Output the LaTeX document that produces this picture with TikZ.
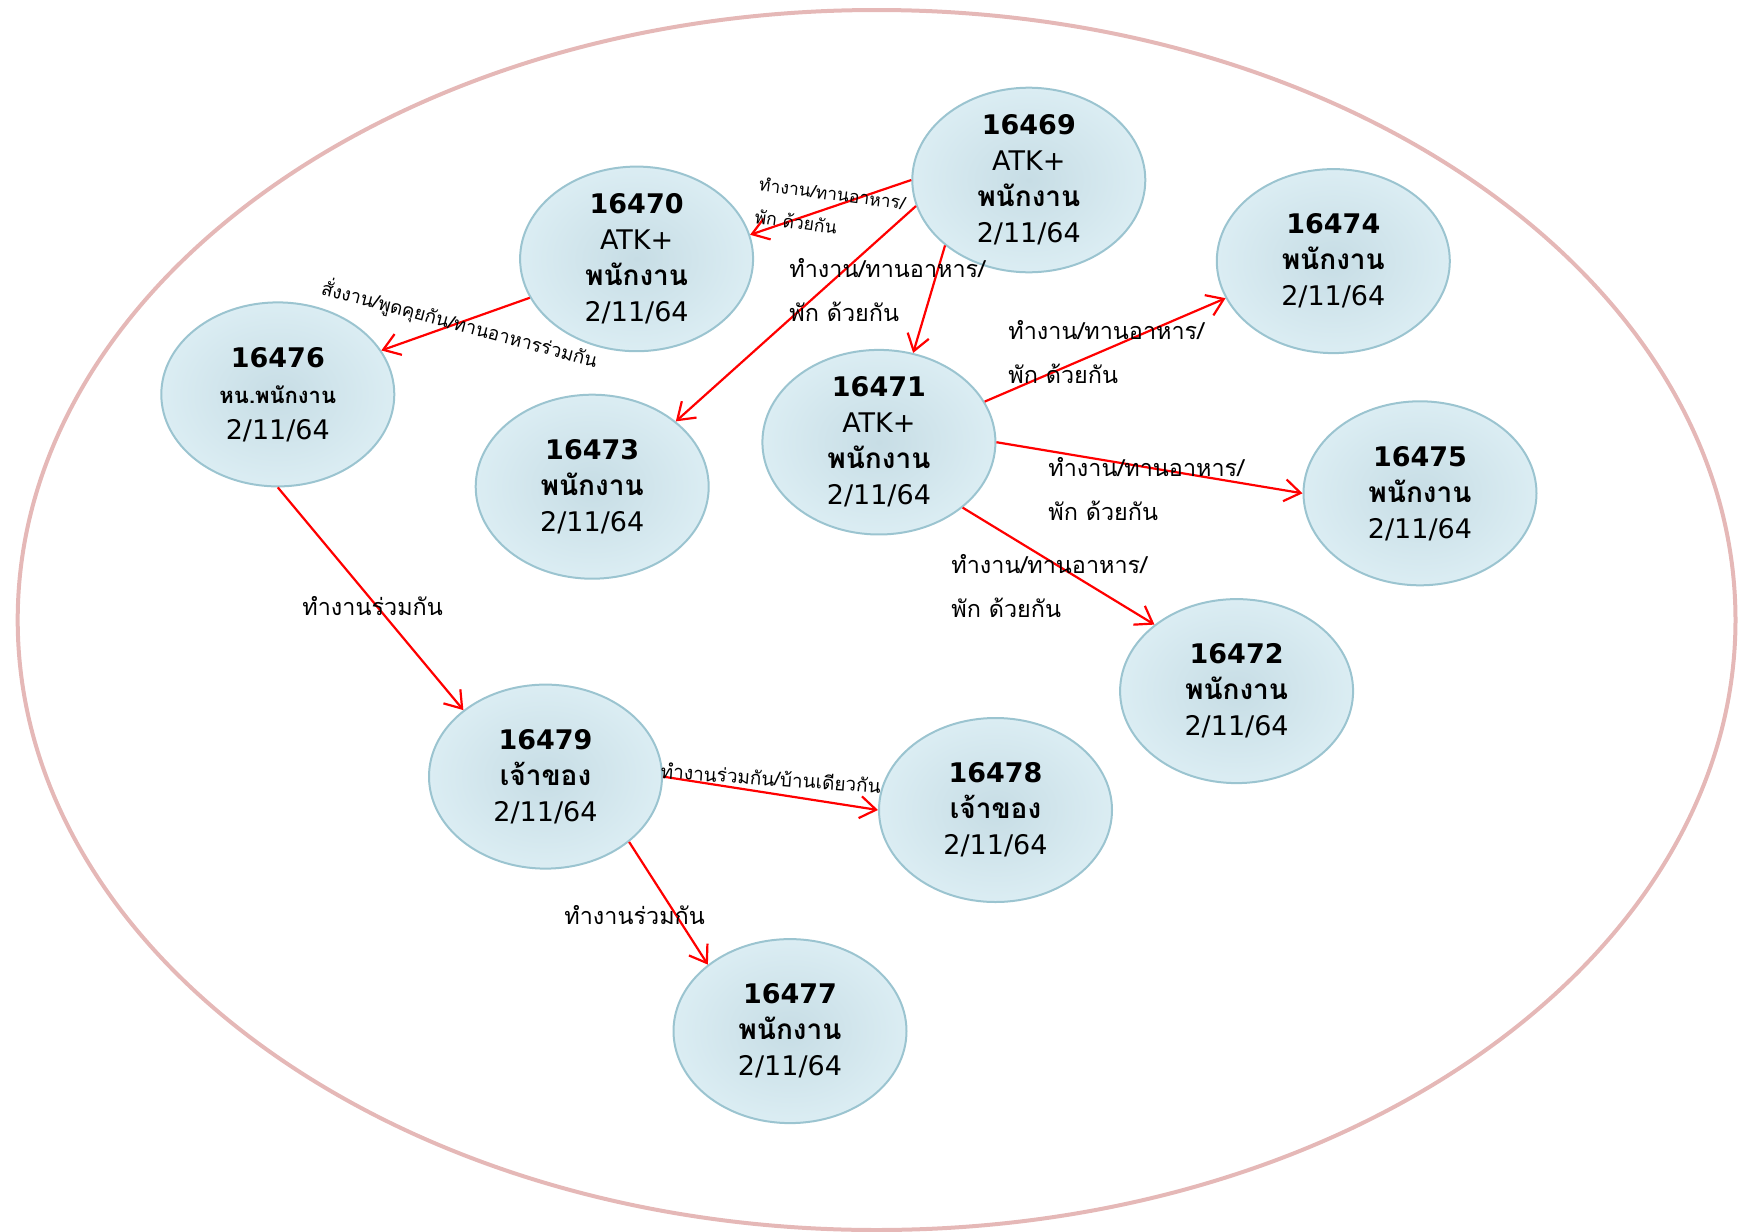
\documentclass[tikz,border=0pt]{standalone}
\usepackage{fontspec}
\setmainfont{DejaVu Sans}
\newfontfamily\thai[Script=Thai]{Loma}
\usetikzlibrary{shapes.geometric,arrows.meta}
\definecolor{ringpink}{RGB}{229,184,183}
\definecolor{caseedge}{RGB}{155,196,208}
\definecolor{casein}{RGB}{199,221,229}
\definecolor{caseout}{RGB}{219,237,243}

\begin{document}
\begin{tikzpicture}[x=0.5pt,y=-0.5pt]
	\tikzstyle{case}=[ellipse,draw=caseedge,line width=1pt,inner color=casein,outer color=caseout,minimum width=116.5pt,minimum height=92pt,inner sep=0pt,align=center,font=\fontsize{13.5}{18}\selectfont]
	\tikzstyle{link}=[red,line width=1.1pt,-{Straight Barb[length=8pt,width=11pt]}]
	\tikzstyle{note}=[inner sep=0pt,align=left,font=\thai\fontsize{11.7}{22.2}\selectfont]
	\tikzstyle{small}=[inner sep=0pt,align=left,font=\thai\fontsize{8.8}{16.5}\selectfont]
	\useasboundingbox (0,0) rectangle (1742,1232);
	\draw [ringpink,line width=2pt] (876.6,620) ellipse [x radius=858.9,y radius=610];
	\node [case] (p16469) at (1028.8,180) {{\bfseries 16469}\\ATK+\\{\thai\bfseries\fontsize{14}{18}\selectfont พนักงาน}\\2/11/64};
	\node [case] (p16470) at (636.6,258.9) {{\bfseries 16470}\\ATK+\\{\thai\bfseries\fontsize{14}{18}\selectfont พนักงาน}\\2/11/64};
	\node [case] (p16474) at (1333.3,261.1) {{\bfseries 16474}\\{\thai\bfseries\fontsize{14}{18}\selectfont พนักงาน}\\2/11/64};
	\node [case] (p16476) at (277.8,394.4) {{\bfseries 16476}\\{\thai\bfseries\fontsize{11}{16}\selectfont หน.พนักงาน}\\2/11/64};
	\node [case] (p16473) at (592.2,486.7) {{\bfseries 16473}\\{\thai\bfseries\fontsize{14}{18}\selectfont พนักงาน}\\2/11/64};
	\node [case] (p16471) at (878.9,442.2) {{\bfseries 16471}\\ATK+\\{\thai\bfseries\fontsize{14}{18}\selectfont พนักงาน}\\2/11/64};
	\node [case] (p16475) at (1420,493.3) {{\bfseries 16475}\\{\thai\bfseries\fontsize{14}{18}\selectfont พนักงาน}\\2/11/64};
	\node [case] (p16472) at (1236.6,691.1) {{\bfseries 16472}\\{\thai\bfseries\fontsize{14}{18}\selectfont พนักงาน}\\2/11/64};
	\node [case] (p16479) at (545.5,776.6) {{\bfseries 16479}\\{\thai\bfseries\fontsize{14}{18}\selectfont เจ้าของ}\\2/11/64};
	\node [case] (p16478) at (995.5,810) {{\bfseries 16478}\\{\thai\bfseries\fontsize{14}{18}\selectfont เจ้าของ}\\2/11/64};
	\node [case] (p16477) at (790,1031.1) {{\bfseries 16477}\\{\thai\bfseries\fontsize{14}{18}\selectfont พนักงาน}\\2/11/64};
	\draw [link] (p16469.west) -- (p16470.12);
	\draw [link] (p16469.193) -- (p16473.38);
	\draw [link] (p16469.218) -- (p16471.69);
	\draw [link] (p16470.200) -- (p16476.23);
	\draw [link] (p16471.21) -- (p16474.199);
	\draw [link] (p16471.east) -- (p16475.west);
	\draw [link] (p16471.-38) -- (p16472.141);
	\draw [link] (p16476.south) -- (p16479.141);
	\draw [link] (p16479.east) -- (p16478.west);
	\draw [link] (p16479.-38) -- (p16477.141);
	\node [small,anchor=north west,rotate=-7.5] (l1) at (760,176) {ทำงาน/ทานอาหาร/\\พัก ด้วยกัน};
	\node [note,anchor=north west] (l2) at (789,258) {ทำงาน/ทานอาหาร/\\พัก ด้วยกัน};
	\node [small,anchor=base west,rotate=-15,font=\thai\fontsize{9.4}{16}\selectfont] (l3) at (320,294) {สั่งงาน/พูดคุยกัน/ทานอาหารร่วมกัน};
	\node [note,anchor=north west] (l4) at (1008,320) {ทำงาน/ทานอาหาร/\\พัก ด้วยกัน};
	\node [note,anchor=north west] (l5) at (1048,457) {ทำงาน/ทานอาหาร/\\พัก ด้วยกัน};
	\node [note,anchor=north west] (l6) at (951,554) {ทำงาน/ทานอาหาร/\\พัก ด้วยกัน};
	\node [note,anchor=north west] (l7) at (302,596) {ทำงานร่วมกัน};
	\node [small,anchor=base west,rotate=-4,font=\thai\fontsize{9.5}{16}\selectfont] (l8) at (660,778) {ทำงานร่วมกัน/บ้านเดียวกัน};
	\node [note,anchor=north west] (l9) at (564,905) {ทำงานร่วมกัน};
\end{tikzpicture}
\end{document}
